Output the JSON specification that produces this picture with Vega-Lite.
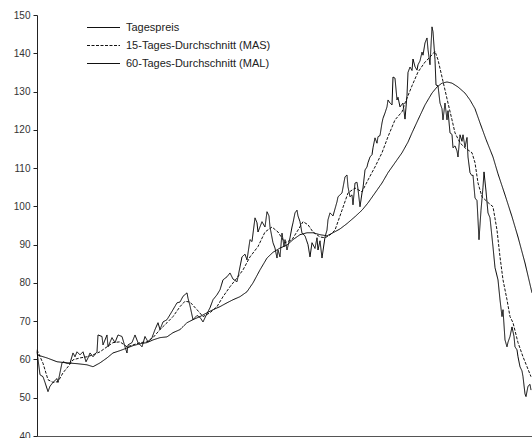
{
  "$schema": "https://vega.github.io/schema/vega-lite/v6.json",
  "autosize": "none",
  "width": 495,
  "height": 421,
  "padding": {"left": 37, "top": 15, "right": 0, "bottom": 2},
  "background": "white",
  "config": {
    "view": {"stroke": null},
    "font": "Liberation Sans"
  },
  "encoding": {
    "x": {"field": "t", "type": "quantitative", "scale": {"domain": [0, 495], "nice": false, "zero": false},
      "axis": {"title": null, "labels": false, "ticks": false, "grid": false, "domainColor": "#555", "domainWidth": 1}},
    "y": {"field": "v", "type": "quantitative", "scale": {"domain": [40, 150], "nice": false, "zero": false},
      "axis": {"title": null, "values": [40,50,60,70,80,90,100,110,120,130,140,150], "grid": false, "tickSize": 4, "tickColor": "#222", "domainColor": "#222", "labelColor": "#333", "labelFontSize": 10, "labelPadding": 3, "labelFont": "Liberation Sans"}}
  },
  "layer": [
    {
      "data": {"values": [
        {"t":0,"v":62.1},{"t":3,"v":56},{"t":6,"v":55.5},{"t":8,"v":54},{"t":11,"v":51.6},{"t":13,"v":53},{"t":16,"v":54},{"t":20,"v":55},{"t":21,"v":54},{"t":25,"v":59.1},{"t":26,"v":59.4},{"t":30,"v":59},{"t":33,"v":59},{"t":36,"v":61.7},{"t":38,"v":60.7},{"t":40,"v":62},{"t":43,"v":61.2},{"t":46,"v":62},{"t":49,"v":59.4},{"t":51,"v":60.4},{"t":53,"v":61.7},{"t":56,"v":60.7},{"t":60,"v":62},{"t":61,"v":66.4},{"t":65,"v":66},{"t":66,"v":63.8},{"t":70,"v":66.4},{"t":71,"v":63.3},{"t":75,"v":65.7},{"t":78,"v":64.4},{"t":81,"v":66.4},{"t":85,"v":66},{"t":88,"v":63.3},{"t":90,"v":61.7},{"t":91,"v":63.8},{"t":95,"v":64.4},{"t":98,"v":66.4},{"t":101,"v":64.4},{"t":105,"v":63.3},{"t":108,"v":66},{"t":111,"v":64.6},{"t":115,"v":65.7},{"t":118,"v":67.8},{"t":121,"v":69.6},{"t":123,"v":67.8},{"t":126,"v":69.8},{"t":130,"v":70.4},{"t":133,"v":71.7},{"t":136,"v":73},{"t":140,"v":74.8},{"t":143,"v":75},{"t":146,"v":76.5},{"t":150,"v":77.4},{"t":151,"v":76},{"t":153,"v":74},{"t":156,"v":70.4},{"t":160,"v":71.5},{"t":163,"v":71},{"t":166,"v":69.8},{"t":170,"v":72},{"t":173,"v":73.5},{"t":176,"v":75.6},{"t":180,"v":76.9},{"t":183,"v":78.2},{"t":186,"v":80.8},{"t":190,"v":81.6},{"t":193,"v":82.6},{"t":196,"v":81},{"t":200,"v":80.3},{"t":203,"v":84.2},{"t":205,"v":86.8},{"t":208,"v":87.5},{"t":210,"v":86},{"t":213,"v":91.3},{"t":215,"v":90.8},{"t":218,"v":97},{"t":220,"v":95.7},{"t":221,"v":93.3},{"t":225,"v":96},{"t":228,"v":94.6},{"t":230,"v":98.6},{"t":232,"v":97.5},{"t":233,"v":94.6},{"t":236,"v":90.5},{"t":238,"v":89.1},{"t":240,"v":86.5},{"t":241,"v":88.6},{"t":243,"v":86.8},{"t":245,"v":93},{"t":247,"v":89.5},{"t":248,"v":91.3},{"t":250,"v":88.6},{"t":253,"v":91.8},{"t":255,"v":94.6},{"t":256,"v":95.7},{"t":258,"v":98.3},{"t":260,"v":99},{"t":261,"v":97.5},{"t":263,"v":96},{"t":265,"v":93},{"t":268,"v":92.3},{"t":271,"v":90},{"t":273,"v":86.8},{"t":275,"v":90.5},{"t":278,"v":89},{"t":280,"v":91.8},{"t":281,"v":88.6},{"t":283,"v":91},{"t":285,"v":86.5},{"t":288,"v":92},{"t":290,"v":93.8},{"t":291,"v":96.5},{"t":293,"v":98.3},{"t":296,"v":97.5},{"t":300,"v":101.2},{"t":301,"v":102.5},{"t":305,"v":103.5},{"t":308,"v":107.7},{"t":310,"v":108.2},{"t":311,"v":105.1},{"t":313,"v":102.5},{"t":315,"v":103},{"t":316,"v":100.4},{"t":318,"v":106.1},{"t":320,"v":106.3},{"t":321,"v":104.5},{"t":323,"v":99.9},{"t":325,"v":103.5},{"t":326,"v":104.8},{"t":328,"v":109.5},{"t":330,"v":110.3},{"t":331,"v":111.4},{"t":333,"v":112.9},{"t":335,"v":113.5},{"t":336,"v":115.3},{"t":338,"v":117.9},{"t":340,"v":116.5},{"t":341,"v":118.2},{"t":343,"v":118.5},{"t":345,"v":121.8},{"t":346,"v":123},{"t":348,"v":124.4},{"t":350,"v":126},{"t":351,"v":127.8},{"t":353,"v":127},{"t":355,"v":126.5},{"t":356,"v":133.8},{"t":358,"v":133.5},{"t":360,"v":127.8},{"t":361,"v":128.5},{"t":363,"v":126},{"t":366,"v":127},{"t":368,"v":122.8},{"t":370,"v":129},{"t":371,"v":135},{"t":373,"v":136.4},{"t":375,"v":135.5},{"t":376,"v":138.5},{"t":378,"v":136.5},{"t":380,"v":135.6},{"t":381,"v":137},{"t":383,"v":138},{"t":385,"v":140.3},{"t":386,"v":139.5},{"t":388,"v":142.7},{"t":390,"v":144},{"t":391,"v":141},{"t":393,"v":137},{"t":395,"v":146.9},{"t":396,"v":145.6},{"t":398,"v":138.3},{"t":399,"v":131.7},{"t":401,"v":131.5},{"t":403,"v":127},{"t":405,"v":125.5},{"t":406,"v":122.6},{"t":408,"v":127},{"t":410,"v":122.6},{"t":411,"v":125},{"t":413,"v":119.2},{"t":415,"v":118.8},{"t":416,"v":115.3},{"t":418,"v":115.8},{"t":420,"v":114.5},{"t":421,"v":112.9},{"t":423,"v":118.7},{"t":425,"v":117},{"t":426,"v":118.7},{"t":428,"v":115.5},{"t":430,"v":118},{"t":431,"v":112.9},{"t":433,"v":108.8},{"t":435,"v":108},{"t":436,"v":108.2},{"t":438,"v":102.2},{"t":440,"v":101.5},{"t":441,"v":96.5},{"t":442,"v":91.3},{"t":444,"v":99},{"t":446,"v":105},{"t":447,"v":109},{"t":449,"v":104},{"t":451,"v":98.3},{"t":453,"v":97},{"t":456,"v":89.4},{"t":458,"v":84},{"t":461,"v":80.8},{"t":463,"v":75.6},{"t":465,"v":71.2},{"t":466,"v":73},{"t":468,"v":65.1},{"t":470,"v":63.3},{"t":471,"v":64.5},{"t":473,"v":66},{"t":475,"v":68.5},{"t":477,"v":66},{"t":478,"v":63.3},{"t":480,"v":62.5},{"t":481,"v":60.7},{"t":483,"v":58.1},{"t":485,"v":57},{"t":486,"v":55.5},{"t":488,"v":51},{"t":489,"v":50.3},{"t":491,"v":53},{"t":493,"v":53.5},{"t":494,"v":52}
      ]},
      "mark": {"type": "line", "color": "#000", "strokeWidth": 1},
      "encoding": {
        "strokeDash": {"datum": "Tagespreis", "type": "nominal",
          "scale": {"domain": ["Tagespreis", "15-Tages-Durchschnitt (MAS)", "60-Tages-Durchschnitt (MAL)"], "range": [[1, 0], [3, 1.5], [1, 0]]},
          "legend": {"title": null, "orient": "none", "legendX": 56, "legendY": 2, "symbolType": "M-1.65,0H1.65", "symbolSize": 400, "symbolStrokeWidth": 1, "symbolStrokeColor": "#000", "symbolFillColor": "transparent", "labelFontSize": 11, "labelFont": "Liberation Sans", "labelColor": "#222", "labelOffset": 12, "rowPadding": 2, "padding": 0}}
      }
    },
    {
      "data": {"values": [
        {"t":0,"v":62.5},{"t":6,"v":59},{"t":11,"v":54.7},{"t":16,"v":54},{"t":21,"v":54.2},{"t":26,"v":56.5},{"t":31,"v":58.1},{"t":36,"v":59.9},{"t":43,"v":60.4},{"t":50,"v":60.7},{"t":56,"v":61.2},{"t":63,"v":62},{"t":70,"v":63.3},{"t":76,"v":64.4},{"t":83,"v":64.6},{"t":90,"v":63.3},{"t":96,"v":63.8},{"t":103,"v":64.4},{"t":110,"v":64.6},{"t":116,"v":65.7},{"t":123,"v":67.8},{"t":130,"v":69.6},{"t":136,"v":71.2},{"t":143,"v":73.8},{"t":148,"v":75.2},{"t":153,"v":75},{"t":160,"v":73},{"t":166,"v":71.2},{"t":173,"v":72.2},{"t":180,"v":73.8},{"t":186,"v":76.4},{"t":193,"v":79},{"t":200,"v":81.3},{"t":206,"v":83.4},{"t":213,"v":86.8},{"t":221,"v":89.5},{"t":228,"v":93.3},{"t":235,"v":94.6},{"t":241,"v":93.3},{"t":248,"v":90.5},{"t":255,"v":91.3},{"t":261,"v":93.8},{"t":266,"v":96},{"t":271,"v":95.2},{"t":276,"v":93.3},{"t":283,"v":92},{"t":288,"v":91.8},{"t":293,"v":92.5},{"t":298,"v":93.8},{"t":305,"v":99},{"t":311,"v":103.5},{"t":318,"v":104.8},{"t":325,"v":103.8},{"t":331,"v":106.9},{"t":338,"v":110.3},{"t":345,"v":114},{"t":351,"v":118.2},{"t":358,"v":122.6},{"t":365,"v":124.7},{"t":368,"v":127},{"t":375,"v":131.5},{"t":381,"v":135.1},{"t":388,"v":137.7},{"t":393,"v":139},{"t":398,"v":140.5},{"t":401,"v":138.3},{"t":405,"v":133.8},{"t":408,"v":130.4},{"t":411,"v":127},{"t":415,"v":122.6},{"t":418,"v":119.2},{"t":423,"v":116.6},{"t":428,"v":115.3},{"t":435,"v":114},{"t":438,"v":111.4},{"t":441,"v":106.1},{"t":445,"v":102.5},{"t":451,"v":101},{"t":456,"v":99.9},{"t":460,"v":93.8},{"t":463,"v":86.8},{"t":466,"v":80.8},{"t":470,"v":75.6},{"t":473,"v":71.2},{"t":476,"v":69.6},{"t":481,"v":64.4},{"t":486,"v":60.7},{"t":490,"v":58.1},{"t":494,"v":55.5}
      ]},
      "mark": {"type": "line", "color": "#111", "strokeWidth": 1},
      "encoding": {"strokeDash": {"datum": "15-Tages-Durchschnitt (MAS)", "type": "nominal"}}
    },
    {
      "data": {"values": [
        {"t":0,"v":61.2},{"t":10,"v":60.4},{"t":20,"v":59.4},{"t":30,"v":59.1},{"t":40,"v":58.9},{"t":50,"v":58.6},{"t":56,"v":58.1},{"t":63,"v":59.1},{"t":70,"v":60.4},{"t":76,"v":61.7},{"t":83,"v":62.3},{"t":90,"v":63},{"t":96,"v":63.6},{"t":103,"v":64.1},{"t":110,"v":64.4},{"t":116,"v":65.1},{"t":123,"v":65.7},{"t":130,"v":65.9},{"t":136,"v":67},{"t":143,"v":67.8},{"t":150,"v":69.6},{"t":156,"v":70.4},{"t":163,"v":71.2},{"t":170,"v":72.2},{"t":176,"v":73},{"t":183,"v":73.8},{"t":190,"v":74.8},{"t":196,"v":75.6},{"t":203,"v":76.4},{"t":210,"v":77.7},{"t":216,"v":80},{"t":223,"v":83.4},{"t":230,"v":86.5},{"t":236,"v":88},{"t":243,"v":89.1},{"t":250,"v":89.9},{"t":256,"v":91.3},{"t":263,"v":92.6},{"t":270,"v":93.1},{"t":276,"v":93.1},{"t":283,"v":92.6},{"t":290,"v":92.3},{"t":296,"v":93.1},{"t":303,"v":94.1},{"t":310,"v":95.5},{"t":318,"v":97.3},{"t":325,"v":99},{"t":331,"v":100.9},{"t":338,"v":103.5},{"t":345,"v":106.1},{"t":351,"v":108.8},{"t":358,"v":111.4},{"t":365,"v":114},{"t":371,"v":116.8},{"t":375,"v":119.2},{"t":381,"v":122.6},{"t":388,"v":126.5},{"t":395,"v":129.6},{"t":400,"v":131.2},{"t":405,"v":132.2},{"t":410,"v":132.5},{"t":415,"v":132.2},{"t":421,"v":131.2},{"t":428,"v":129.6},{"t":433,"v":127.8},{"t":438,"v":125.5},{"t":443,"v":121.8},{"t":449,"v":117.5},{"t":456,"v":112.9},{"t":461,"v":108.5},{"t":468,"v":103},{"t":475,"v":97.3},{"t":481,"v":92},{"t":488,"v":85.2},{"t":495,"v":77.4}
      ]},
      "mark": {"type": "line", "color": "#000", "strokeWidth": 1},
      "encoding": {"strokeDash": {"datum": "60-Tages-Durchschnitt (MAL)", "type": "nominal"}}
    }
  ]
}
